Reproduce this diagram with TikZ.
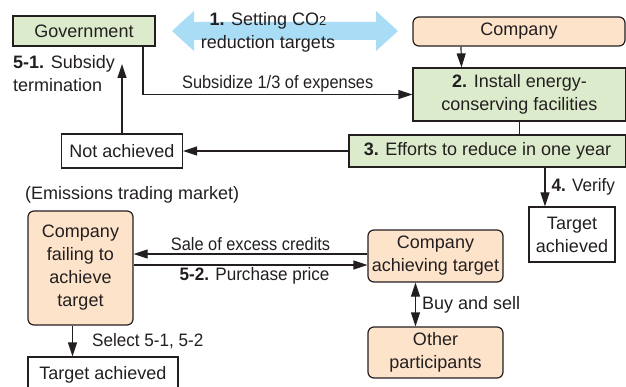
\documentclass[tikz,border=0pt]{standalone}
\usepackage{fontspec}
\setmainfont{Liberation Sans}
\newfontfamily\condfont{Liberation Sans}[FakeStretch=0.91]
\newfontfamily\semicondfont{Liberation Sans}[FakeStretch=0.95]
\usetikzlibrary{arrows.meta}
\definecolor{inkgray}{HTML}{231F20}
\definecolor{greenfill}{HTML}{DCEBCB}
\definecolor{peachfill}{HTML}{FDE3CA}
\definecolor{skyblue}{HTML}{A9DCF5}

\begin{document}
\begin{tikzpicture}[x=1pt, y=-1pt, font=\fontsize{18}{23}\selectfont, text=inkgray,
  box/.style={draw=inkgray, line width=1.2pt, inner sep=0pt, align=center},
  gbox/.style={box, fill=greenfill},
  obox/.style={box, fill=peachfill, rounded corners=6pt},
  wbox/.style={box, fill=white},
  arr/.style={-{Triangle[length=14pt,width=9pt]}, draw=inkgray, line width=1.2pt},
  arrboth/.style={arr, {Triangle[length=14pt,width=9pt]}-{Triangle[length=14pt,width=9pt]}},
  lbl/.style={inner sep=2pt, align=left},
  condlbl/.style={lbl, font=\fontsize{18}{23}\condfont},
  semilbl/.style={lbl, font=\fontsize{18}{23}\semicondfont},
]
\useasboundingbox (0,0) rectangle (626,387);
% top row
\fill[skyblue] (172,31) -- (194,11) -- (194,22) -- (376,22) -- (376,11) -- (398,31)
  -- (376,51) -- (376,40) -- (194,40) -- (194,51) -- cycle;
\node[lbl, align=center] (settarget) at (268,32)
  {\textbf{1.} Setting CO{\fontsize{13}{13}\selectfont 2}\\reduction targets};
\node[gbox, minimum width=142, minimum height=30] (gov) at (84,31) {Government};
\node[obox, minimum width=212, minimum height=29] (comp) at (519,31.5) {Company};
\node[gbox, minimum width=213, minimum height=53] (install) at (519.5,94.5)
  {\textbf{2.} Install energy-\\conserving facilities};
\node[gbox, minimum width=277, minimum height=32] (efforts) at (487.5,151)
  {\textbf{3.} Efforts to reduce in one year};
\node[wbox, minimum width=121, minimum height=34] (notach) at (122,151) {Not achieved};
\node[wbox, minimum width=86, minimum height=55] (tgtright) at (572,234.5)
  {Target\\achieved};
\coordinate (subend) at (122,64);
\node[lbl, anchor=west] (subsidyend) at (11,74) {\textbf{5-1.} Subsidy\\termination};
% emissions trading market
\node[lbl, anchor=west] (market) at (23,195) {(Emissions trading market)};
\node[obox, minimum width=105, minimum height=114] (failing) at (80.5,268)
  {Company\\failing to\\achieve\\target};
\node[obox, minimum width=135, minimum height=52] (achieving) at (435.5,256)
  {Company\\achieving target};
\node[obox, minimum width=135, minimum height=51] (others) at (435.5,352.5)
  {Other\\participants};
\node[wbox, minimum width=150, minimum height=36] (tgtleft) at (103,375)
  {Target achieved};

\draw[arr] ([xshift=-58]comp.south) -- ([xshift=-58]install.north);
\draw[arr] ([xshift=59]gov.south) |- node[pos=0.75, above, condlbl]
  {Subsidize 1/3 of expenses} (install.west);
\draw[line width=1.2pt, draw=inkgray] (install.south) -- (install.south |- efforts.north);
\draw[arr] (efforts.west) -- (notach.east);
\draw[arr] (notach.north) -- (subend);
\draw[arr] ([xshift=-27]tgtright.north |- efforts.south) --
  node[right, pos=0.5, semilbl, xshift=4] {\textbf{4.} Verify} ([xshift=-27]tgtright.north);
\draw[arr] ([yshift=2]achieving.west) --
  node[above, condlbl, yshift=1] {Sale of excess credits}
  ([yshift=2]achieving.west -| failing.east);
\draw[arr] ([yshift=-9]failing.east |- achieving.west) --
  node[below, semilbl, xshift=4] {\textbf{5-2.} Purchase price}
  ([yshift=-9]achieving.west);
\draw[arrboth] ([xshift=-20]achieving.south) --
  node[right, lbl, xshift=4] {Buy and sell} ([xshift=-20]others.north);
\draw[arr] ([xshift=-8]failing.south) --
  node[right, semilbl, xshift=17] {Select 5-1, 5-2}
  ([xshift=-8]failing.south |- tgtleft.north);
\end{tikzpicture}
\end{document}
